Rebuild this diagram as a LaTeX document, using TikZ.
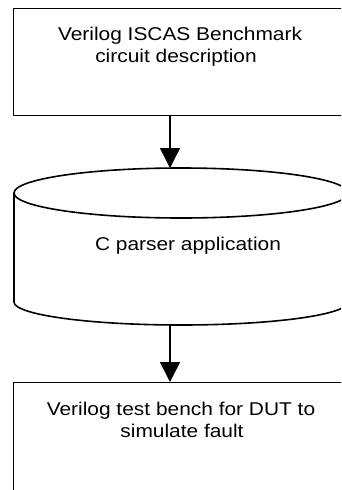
\documentclass[tikz,border=0pt]{standalone}
\usepackage{fontspec}
\setmainfont{Liberation Sans}[FakeStretch=1.13]
\usetikzlibrary{arrows.meta}
\begin{document}
\begin{tikzpicture}[x=1pt,y=1pt,
  box/.style={draw=black, line width=1.3pt, fill=white, inner sep=0pt, anchor=north west},
  txt/.style={font=\fontsize{18.5}{22}\selectfont, anchor=base, inner sep=0pt},
  flow/.style={draw=black, line width=1.5pt, -{Triangle[width=20pt,length=20pt]}},
  cylline/.style={draw=black, line width=1.6pt}]
  \clip (0,0) rectangle (341,-490);
  \fill[white] (0,0) rectangle (341,-490);

  % input description box
  \node[box, minimum width=335pt, minimum height=107pt] (src) at (13,-8) {};
  \node[txt] (srcA) at (180,-40) {Verilog ISCAS Benchmark};
  \node[txt] (srcB) at (176,-62) {circuit description};

  % parser drawn as a cylinder
  \draw[cylline] (181,-193) ellipse [x radius=167, y radius=25];
  \draw[cylline] (14,-193) -- (14,-302)
     arc [start angle=180, end angle=360, x radius=167, y radius=23]
     -- (348,-193);
  \node[inner sep=0pt, minimum width=334pt, minimum height=157pt] (cyl) at (181,-246.5) {};
  \node[txt] (cylA) at (188,-250) {C parser application};
  \coordinate (cyltop) at (170,-168);
  \coordinate (cylbot) at (170,-325);

  % generated test bench box
  \node[box, minimum width=335pt, minimum height=130pt] (tb) at (13,-382) {};
  \node[txt] (tbA) at (181,-415) {Verilog test bench for DUT to};
  \node[txt] (tbB) at (182,-437) {simulate fault};

  % connectors
  \draw[flow] (src.south -| cyltop) -- (cyltop);
  \draw[flow] (cylbot) -- (tb.north -| cylbot);
\end{tikzpicture}
\end{document}
